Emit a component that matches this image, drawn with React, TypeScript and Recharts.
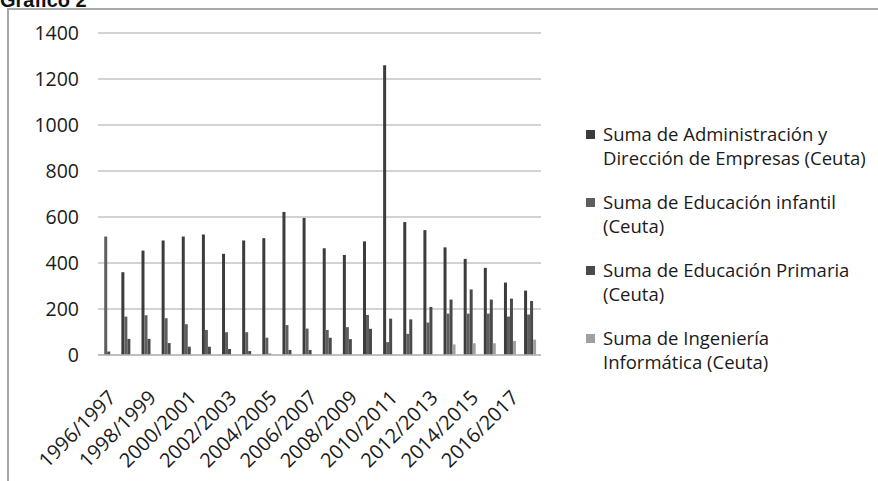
import { BarChart, Bar, XAxis, YAxis, CartesianGrid, Legend } from "recharts";

const cursos = [
  "1996/1997", "1997/1998", "1998/1999", "1999/2000", "2000/2001", "2001/2002",
  "2002/2003", "2003/2004", "2004/2005", "2005/2006", "2006/2007", "2007/2008",
  "2008/2009", "2009/2010", "2010/2011", "2011/2012", "2012/2013", "2013/2014",
  "2014/2015", "2015/2016", "2016/2017", "2017/2018",
];

const administracion = [0, 360, 454, 498, 515, 524, 440, 498, 508, 622, 596, 464, 435, 494, 1260, 578, 543, 468, 418, 379, 315, 280];
const infantil = [515, 167, 173, 160, 134, 109, 99, 99, 75, 130, 115, 109, 121, 174, 56, 92, 141, 180, 180, 180, 167, 176];
const primaria = [15, 70, 70, 52, 36, 36, 26, 17, 6, 22, 22, 75, 69, 114, 158, 155, 209, 241, 285, 241, 245, 235];
const informatica = [0, 0, 0, 0, 0, 0, 0, 0, 0, 0, 0, 0, 0, 0, 0, 0, 0, 46, 51, 51, 61, 67];

const yTicks = [0, 200, 400, 600, 800, 1000, 1200, 1400];

const series = [
  { key: "adm", color: "#3c3c3c", lines: ["Suma de Administración y", "Dirección de Empresas (Ceuta)"] },
  { key: "inf", color: "#5e5e5e", lines: ["Suma de Educación infantil", "(Ceuta)"] },
  { key: "pri", color: "#4a4a4a", lines: ["Suma de Educación Primaria", "(Ceuta)"] },
  { key: "ing", color: "#a0a0a0", lines: ["Suma de Ingeniería", "Informática (Ceuta)"] },
];

const data = cursos.map((c, i) => ({
  curso: c,
  adm: administracion[i],
  inf: infantil[i],
  pri: primaria[i],
  ing: informatica[i],
}));

const FONT = "'Open Sans', 'Liberation Sans', sans-serif";

function CursoTick(props: any) {
  const { x, y, payload } = props;
  return (
    <g transform={`translate(${x + 4},${y + 39})`}>
      <text
        textAnchor="end"
        transform="rotate(-45)"
        dy="0.35em"
        fontSize={20}
        fontFamily={FONT}
        fill="#1a1a1a"
      >
        {payload.value}
      </text>
    </g>
  );
}

function Leyenda() {
  return (
    <div style={{ fontFamily: FONT, fontSize: 18.5, color: "#1a1a1a" }}>
      {series.map((s) => (
        <div key={s.key} style={{ display: "flex", marginBottom: 20 }}>
          <div
            style={{
              width: 9,
              height: 9,
              background: s.color,
              marginTop: 8,
              marginRight: 8,
              flexShrink: 0,
            }}
          />
          <div style={{ lineHeight: "24px", whiteSpace: "nowrap" }}>
            {s.lines.map((l) => (
              <div key={l}>{l}</div>
            ))}
          </div>
        </div>
      ))}
    </div>
  );
}

export default function App() {
  return (
    <div
      style={{
        position: "absolute",
        left: 0,
        top: 0,
        width: 878,
        height: 481,
        overflow: "hidden",
        background: "#fff",
      }}
    >
      <div
        style={{
          position: "absolute",
          left: 0,
          top: -10,
          fontFamily: "'Liberation Sans', Arial, sans-serif",
          fontWeight: "bold",
          fontSize: 20,
          lineHeight: "20px",
          color: "#111",
        }}
      >
        Gráfico 2
      </div>
      <div
        style={{
          position: "absolute",
          left: 7,
          top: 8,
          width: 1000,
          height: 1000,
          border: "2px solid #a8a8a8",
        }}
      />
      <div style={{ position: "absolute", left: 0, top: 0 }}>
        <BarChart
          width={878}
          height={481}
          data={data}
          margin={{ top: 33, right: 337, bottom: 26, left: 8 }}
          barCategoryGap="16%"
          barGap={0}
        >
          <CartesianGrid vertical={false} stroke="#c4c4c4" strokeWidth={1.5} />
          <XAxis
            dataKey="curso"
            interval={1}
            height={100}
            axisLine={{ stroke: "#b8b8b8", strokeWidth: 1.5 }}
            tickLine={false}
            tickSize={0}
            tickMargin={0}
            tick={<CursoTick />}
          />
          <YAxis
            domain={[0, 1400]}
            ticks={yTicks}
            width={90}
            axisLine={false}
            tickLine={false}
            tickSize={0}
            tickMargin={19}
            tick={{ fontSize: 19.5, fontFamily: FONT, fill: "#1a1a1a" }}
          />
          <Legend
            layout="vertical"
            align="center"
            verticalAlign="middle"
            content={<Leyenda />}
            wrapperStyle={{ left: 586, top: 122, width: 290 }}
          />
          {series.map((s) => (
            <Bar key={s.key} dataKey={s.key} fill={s.color} isAnimationActive={false} />
          ))}
        </BarChart>
      </div>
    </div>
  );
}
